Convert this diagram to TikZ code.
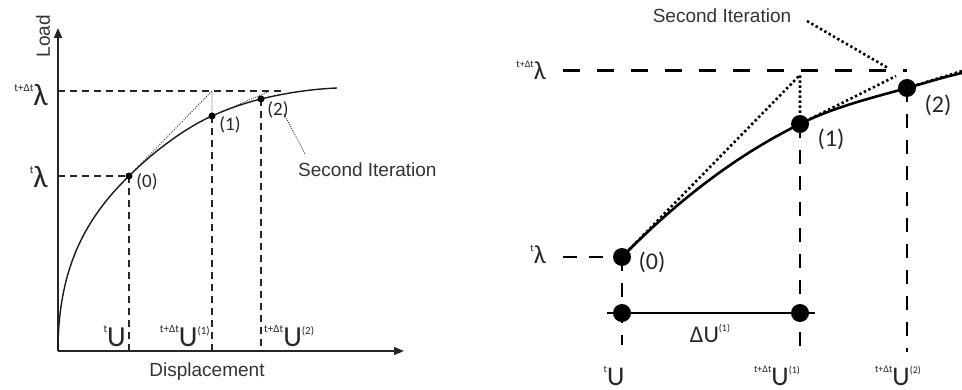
\documentclass[tikz,border=0pt]{standalone}
\usepackage{fontspec}
\setmainfont{Carlito}
\newfontfamily\arialf{Liberation Sans}
\usetikzlibrary{arrows.meta}
\newcommand{\sups}[3]{\raisebox{#1}{\fontsize{#2}{#2}\selectfont #3}}
\tikzset{
 axisline/.style={line width=1.4pt, -{Triangle[length=10pt,width=8pt]}, draw=black!85},
 ldash/.style={line width=1.3pt, dash pattern=on 7pt off 5pt, draw=black!85},
 lcurve/.style={line width=1.4pt, draw=black!90},
 ldots/.style={line width=0.9pt, dash pattern=on 1pt off 1.3pt, draw=black!80},
 ldotnode/.style={circle, fill=black, inner sep=0pt, minimum size=7pt},
 rdash/.style={line width=3pt, dash pattern=on 17pt off 17pt},
 rvdash/.style={line width=2.6pt, dash pattern=on 14pt off 12pt},
 rcurve/.style={line width=2.6pt},
 rdots/.style={line width=2.6pt, dash pattern=on 2.4pt off 2.6pt},
 rdotnode/.style={circle, fill=black, inner sep=0pt, minimum size=18pt},
 lbl/.style={inner sep=0pt, text=black!85},
 word/.style={inner sep=0pt, text=black!80, font=\arialf\fontsize{19}{19}\selectfont},
}
\begin{document}
\begin{tikzpicture}[x=1pt,y=-1pt]
\useasboundingbox (0,0) rectangle (962,390);
% ---------------- left diagram ----------------
\coordinate (O) at (58,351);
\coordinate (YT) at (58,28);
\coordinate (XR) at (404,351);
\coordinate (P0) at (129,176);
\coordinate (P1) at (212,116);
\coordinate (P2) at (261,99);
\coordinate (PE) at (337,88);
\coordinate (A1) at (212,91);
\coordinate (B1) at (270,91);
\coordinate (H1) at (286,91);
\coordinate (YL2) at (58,91);
\coordinate (YL1) at (58,176);
\coordinate (X0) at (129,351);
\coordinate (X1) at (212,351);
\coordinate (X2) at (261,351);
\coordinate (LS) at (284,114);
\coordinate (LE) at (305,154);

\draw[ldash] (YL2) -- (H1);
\draw[ldash] (YL1) -- (P0);
\draw[ldash] (P0) -- (X0);
\draw[ldash] (P1) -- (X1);
\draw[ldash] (P2) -- (X2);
\draw[axisline] (O) -- (YT);
\draw[axisline] (O) -- (XR);
\draw[lcurve] (O) .. controls (58,265) and (88,216) .. (P0)
  .. controls (153,152) and (185,128) .. (P1)
  .. controls (227.5,109) and (244.5,103) .. (P2)
  .. controls (285,93) and (312,89) .. (PE);
\draw[ldots] (P0) -- (A1) -- (P1) -- (B1);
\draw[ldots] (LS) -- (LE);
\node[ldotnode] (lp0) at (P0) {};
\node[ldotnode] (lp1) at (P1) {};
\node[ldotnode] (lp2) at (P2) {};

\node[word, rotate=90] (load) at (43,36) {Load};
\node[word] (disp) at (207,372) {Displacement};
\node[word, anchor=west] (sil) at (298,170) {Second Iteration};

\node[lbl, anchor=base east] (llam2) at (48,106) {\sups{14pt}{11}{t+Δt}\fontsize{31}{31}\selectfont λ};
\node[lbl, anchor=base east] (llam1) at (48,188) {\sups{14pt}{11}{t}\fontsize{31}{31}\selectfont λ};
\node[lbl, anchor=base east] (lu0) at (126,347) {\sups{14pt}{11}{t}\fontsize{29}{29}\selectfont U};
\node[lbl, anchor=base east] (lu1) at (210,347) {\sups{14pt}{11}{t+Δt}\fontsize{29}{29}\selectfont U\sups{13pt}{11}{(1)}};
\node[lbl, anchor=base west] (lu2) at (264,347) {\sups{14pt}{11}{t+Δt}\fontsize{29}{29}\selectfont U\sups{13pt}{11}{(2)}};
\node[lbl, font=\fontsize{19}{19}\selectfont] (l0) at (147,182) {(0)};
\node[lbl, font=\fontsize{19}{19}\selectfont] (l1) at (230,125) {(1)};
\node[lbl, font=\fontsize{19}{19}\selectfont] (l2) at (278,110) {(2)};

% ---------------- right diagram ----------------
\coordinate (Q0) at (622,257);
\coordinate (Q1) at (800,124);
\coordinate (Q2) at (907,88);
\coordinate (QE) at (962,73);
\coordinate (QT) at (962,71);
\coordinate (AR) at (800,75);
\coordinate (BR) at (896,76);
\coordinate (HL2) at (563,71);
\coordinate (HR2) at (907,71);
\coordinate (HL1) at (563,257);
\coordinate (V0) at (622,345);
\coordinate (V1) at (800,350);
\coordinate (V2) at (907,352);
\coordinate (DL) at (607,313);
\coordinate (DR) at (815,313);
\coordinate (SS) at (807,21);
\coordinate (SE) at (888,68);

\draw[rdash] (HL2) -- (HR2);
\draw[rvdash] (HL1) -- (Q0);
\draw[rvdash] (Q0) -- (V0);
\draw[rvdash] (Q1) -- (V1);
\draw[rvdash] (Q2) -- (V2);
\draw[line width=1.6pt] (DL) -- (DR);
\draw[rcurve] (Q0) .. controls (674,204) and (733.5,156.6) .. (Q1)
  .. controls (834,107) and (870.4,98.3) .. (Q2)
  .. controls (926,82.6) and (944,77) .. (QE);
\draw[rdots] (Q0) -- (AR) -- (Q1) -- (BR);
\draw[rdots] (Q2) -- (QT);
\draw[rdots] (SS) -- (SE);
\node[rdotnode] (rq0) at (Q0) {};
\node[rdotnode] (rq1) at (Q1) {};
\node[rdotnode] (rq2) at (Q2) {};
\node[rdotnode] (rd0) at (622,313) {};
\node[rdotnode] (rd1) at (800,313) {};

\node[word] (sir) at (722,16) {Second Iteration};
\node[lbl, anchor=base east] (rlam2) at (546,80) {\sups{12pt}{10}{t+Δt}\fontsize{26}{26}\selectfont λ};
\node[lbl, anchor=base east] (rlam1) at (546,264) {\sups{12pt}{10}{t}\fontsize{26}{26}\selectfont λ};
\node[lbl, font=\fontsize{24}{24}\selectfont] (r0) at (652,262) {(0)};
\node[lbl, font=\fontsize{24}{24}\selectfont] (r1) at (831,139) {(1)};
\node[lbl, font=\fontsize{24}{24}\selectfont] (r2) at (938,105) {(2)};
\node[lbl] (du) at (710,333) {\fontsize{24}{24}\selectfont ΔU\sups{11pt}{10}{(1)}};
\node[lbl, anchor=base] (ru0) at (614,385) {\sups{13pt}{10}{t}\fontsize{27}{27}\selectfont U};
\node[lbl, anchor=base] (ru1) at (777,385) {\sups{13pt}{10}{t+Δt}\fontsize{27}{27}\selectfont U\sups{12pt}{10}{(1)}};
\node[lbl, anchor=base] (ru2) at (898,385) {\sups{13pt}{10}{t+Δt}\fontsize{27}{27}\selectfont U\sups{12pt}{10}{(2)}};
\end{tikzpicture}
\end{document}
